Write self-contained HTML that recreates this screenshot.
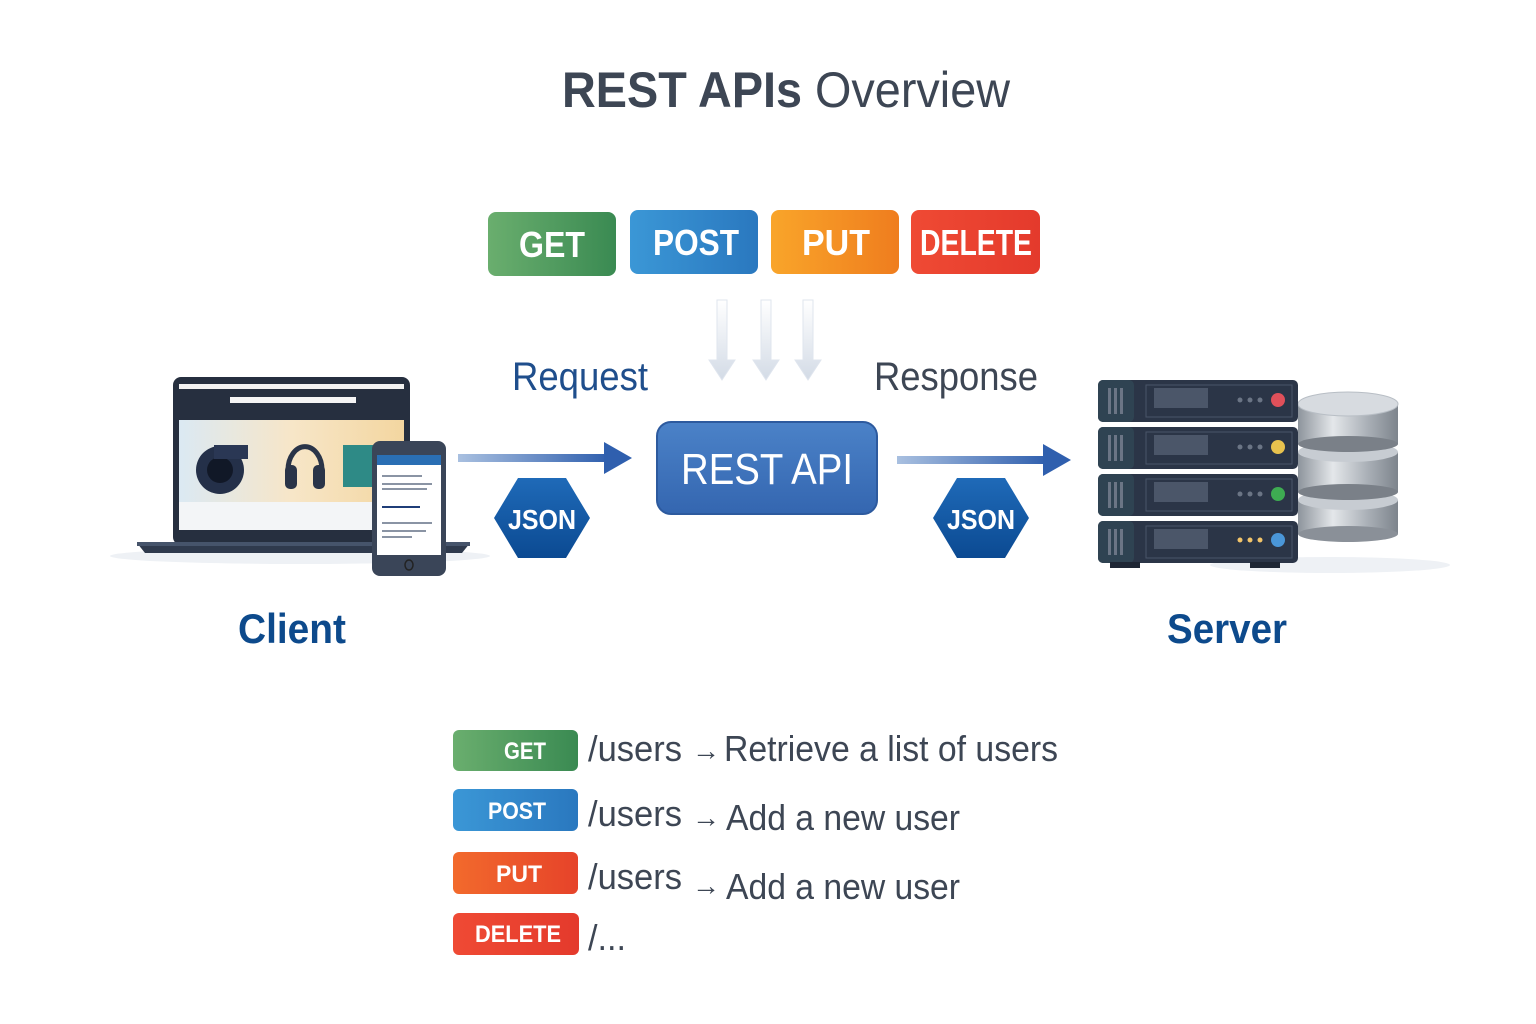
<!DOCTYPE html>
<html><head><meta charset="utf-8"><style>html,body{margin:0;padding:0;background:#fff}svg{display:block}text{font-family:"Liberation Sans",sans-serif}</style></head><body>
<svg width="1536" height="1024" viewBox="0 0 1536 1024" xmlns="http://www.w3.org/2000/svg">
<defs>
<linearGradient id="gG" x1="0" x2="1"><stop offset="0" stop-color="#6aae6e"/><stop offset="1" stop-color="#3a8a52"/></linearGradient>
<linearGradient id="gB" x1="0" x2="1"><stop offset="0" stop-color="#3b97d6"/><stop offset="1" stop-color="#2a78bf"/></linearGradient>
<linearGradient id="gO" x1="0" x2="1"><stop offset="0" stop-color="#f9a52a"/><stop offset="1" stop-color="#ef7d1e"/></linearGradient>
<linearGradient id="gR" x1="0" x2="1"><stop offset="0" stop-color="#ef4a34"/><stop offset="1" stop-color="#e43a2c"/></linearGradient>
<linearGradient id="gP" x1="0" x2="1"><stop offset="0" stop-color="#f26a2c"/><stop offset="1" stop-color="#e6432a"/></linearGradient>
<linearGradient id="arL" x1="0" x2="1"><stop offset="0" stop-color="#a9c0e0"/><stop offset="1" stop-color="#2f5fae"/></linearGradient>
<linearGradient id="api" x1="0" y1="0" x2="0" y2="1"><stop offset="0" stop-color="#4b82c8"/><stop offset="1" stop-color="#3466b0"/></linearGradient>
<linearGradient id="hex" x1="0" y1="0" x2="0" y2="1"><stop offset="0" stop-color="#1f6ab8"/><stop offset="1" stop-color="#0b4a92"/></linearGradient>
<linearGradient id="db" x1="0" x2="1"><stop offset="0" stop-color="#8d949c"/><stop offset=".35" stop-color="#e4e7ea"/><stop offset=".7" stop-color="#a9afb6"/><stop offset="1" stop-color="#7d848c"/></linearGradient>
<linearGradient id="scr" x1="0" x2="1"><stop offset="0" stop-color="#dbe9f3"/><stop offset=".5" stop-color="#f7e6c8"/><stop offset="1" stop-color="#f3d6a0"/></linearGradient>
<linearGradient id="dn" x1="0" y1="0" x2="0" y2="1"><stop offset="0" stop-color="#fff"/><stop offset="1" stop-color="#d3dbe6"/></linearGradient>
</defs>

<text x="786" y="107" text-anchor="middle" font-size="50" fill="#3d4654" textLength="448" lengthAdjust="spacingAndGlyphs"><tspan font-weight="bold">REST APIs</tspan> Overview</text>

<rect x="488" y="212" width="128" height="64" rx="8" fill="url(#gG)"/>
<rect x="630" y="210" width="128" height="64" rx="8" fill="url(#gB)"/>
<rect x="771" y="210" width="128" height="64" rx="8" fill="url(#gO)"/>
<rect x="911" y="210" width="129" height="64" rx="8" fill="url(#gR)"/>
<g fill="#fff" font-size="36" text-anchor="middle" font-weight="bold">
<text x="552" y="257" textLength="66" lengthAdjust="spacingAndGlyphs">GET</text>
<text x="696" y="255" textLength="86" lengthAdjust="spacingAndGlyphs">POST</text>
<text x="836" y="255" textLength="68" lengthAdjust="spacingAndGlyphs">PUT</text>
<text x="976" y="255" textLength="112" lengthAdjust="spacingAndGlyphs">DELETE</text>
</g>

<g fill="url(#dn)" stroke="#dfe5ee" stroke-width="1">
<path d="M717 300h10v60h8l-13 20l-13-20h8z"/>
<path d="M761 300h10v60h8l-13 20l-13-20h8z"/>
<path d="M803 300h10v60h8l-13 20l-13-20h8z"/>
</g>

<text x="512" y="390" font-size="40" fill="#1f4e8c" textLength="136" lengthAdjust="spacingAndGlyphs">Request</text>
<text x="874" y="390" font-size="40" fill="#3d4654" textLength="164" lengthAdjust="spacingAndGlyphs">Response</text>

<rect x="657" y="422" width="220" height="92" rx="14" fill="url(#api)" stroke="#2d5a9e" stroke-width="2"/>
<text x="767" y="484" text-anchor="middle" font-size="44" fill="#fff" textLength="172" lengthAdjust="spacingAndGlyphs">REST API</text>

<rect x="458" y="454" width="150" height="8" fill="url(#arL)"/>
<path d="M604 442l28 16l-28 16z" fill="#2f5fae"/>
<rect x="897" y="456" width="150" height="8" fill="url(#arL)"/>
<path d="M1043 444l28 16l-28 16z" fill="#2f5fae"/>

<path d="M518 478h48l24 40l-24 40h-48l-24-40z" fill="url(#hex)"/>
<text x="542" y="529" text-anchor="middle" font-size="28" fill="#fff" font-weight="bold" textLength="68" lengthAdjust="spacingAndGlyphs">JSON</text>
<path d="M957 478h48l24 40l-24 40h-48l-24-40z" fill="url(#hex)"/>
<text x="981" y="529" text-anchor="middle" font-size="28" fill="#fff" font-weight="bold" textLength="68" lengthAdjust="spacingAndGlyphs">JSON</text>

<ellipse cx="300" cy="556" rx="190" ry="8" fill="#eef1f5"/>
<rect x="173" y="377" width="237" height="168" rx="8" fill="#262f3f"/>
<rect x="179" y="384" width="225" height="5" fill="#f2f2f2"/>
<rect x="230" y="397" width="126" height="6" fill="#f4f4f4"/>
<rect x="179" y="420" width="225" height="82" fill="url(#scr)"/>
<rect x="179" y="502" width="225" height="28" fill="#f3f5f7"/>
<circle cx="220" cy="470" r="24" fill="#243049"/><circle cx="220" cy="470" r="13" fill="#111827"/><rect x="214" y="445" width="34" height="14" fill="#2a3754"/>
<path d="M288 470a16 22 0 0 1 34 0" fill="none" stroke="#2a3448" stroke-width="5"/><rect x="285" y="465" width="12" height="24" rx="5" fill="#2a3448"/><rect x="313" y="465" width="12" height="24" rx="5" fill="#2a3448"/>
<rect x="343" y="445" width="30" height="42" fill="#2e8a86"/>
<path d="M137 543h333l-8 10h-317z" fill="#2f3a4d"/>
<rect x="137" y="542" width="333" height="4" fill="#46546b"/>
<rect x="372" y="441" width="74" height="135" rx="8" fill="#3a4558"/>
<rect x="377" y="455" width="64" height="100" fill="#fff"/>
<rect x="377" y="455" width="64" height="10" fill="#2a6fb4"/>
<g fill="#8a94a4"><rect x="382" y="475" width="40" height="2"/><rect x="382" y="483" width="50" height="2"/><rect x="382" y="488" width="45" height="2"/><rect x="382" y="506" width="38" height="2" fill="#1f3e78"/><rect x="382" y="522" width="50" height="2"/><rect x="382" y="530" width="44" height="2"/><rect x="382" y="536" width="30" height="2"/></g>
<ellipse cx="409" cy="565" rx="4" ry="5" fill="none" stroke="#222" stroke-width="1.5"/>

<ellipse cx="1330" cy="565" rx="120" ry="8" fill="#eef1f5"/>
<g>
<rect x="1298" y="500" width="100" height="34" fill="url(#db)"/><ellipse cx="1348" cy="534" rx="50" ry="8" fill="#8a9098"/><ellipse cx="1348" cy="500" rx="50" ry="10" fill="#c7ccd2"/>
<rect x="1298" y="452" width="100" height="40" fill="url(#db)"/><ellipse cx="1348" cy="492" rx="50" ry="8" fill="#7a8088"/><ellipse cx="1348" cy="452" rx="50" ry="10" fill="#c7ccd2"/>
<rect x="1298" y="404" width="100" height="40" fill="url(#db)"/><ellipse cx="1348" cy="444" rx="50" ry="8" fill="#7a8088"/><ellipse cx="1348" cy="404" rx="50" ry="12" fill="#d7dbe0" stroke="#b8bec5"/>
</g>
<g id="srv">
<rect x="1098" y="380" width="200" height="42" rx="5" fill="#2b3547"/>
<rect x="1098" y="380" width="36" height="42" rx="5" fill="#2f4352"/>
<g fill="#6b7585"><rect x="1108" y="388" width="3" height="26"/><rect x="1114" y="388" width="3" height="26"/><rect x="1120" y="388" width="3" height="26"/></g>
<rect x="1146" y="385" width="146" height="32" fill="none" stroke="#4a5568" stroke-width="1"/>
<rect x="1154" y="388" width="54" height="20" fill="#5a6577" opacity=".7"/>
</g>
<use href="#srv" y="47"/><use href="#srv" y="94"/><use href="#srv" y="141"/>
<g fill="#6b7585"><circle cx="1240" cy="400" r="2.5"/><circle cx="1250" cy="400" r="2.5"/><circle cx="1260" cy="400" r="2.5"/><circle cx="1240" cy="447" r="2.5"/><circle cx="1250" cy="447" r="2.5"/><circle cx="1260" cy="447" r="2.5"/><circle cx="1240" cy="494" r="2.5"/><circle cx="1250" cy="494" r="2.5"/><circle cx="1260" cy="494" r="2.5"/></g>
<g fill="#f2c46a"><circle cx="1240" cy="540" r="2.5"/><circle cx="1250" cy="540" r="2.5"/><circle cx="1260" cy="540" r="2.5"/></g>
<circle cx="1278" cy="400" r="7" fill="#e0505a"/><circle cx="1278" cy="447" r="7" fill="#e8c24e"/><circle cx="1278" cy="494" r="7" fill="#3eac52"/><circle cx="1278" cy="540" r="7" fill="#4a96d8"/>
<rect x="1110" y="562" width="30" height="6" fill="#1e2634"/><rect x="1250" y="562" width="30" height="6" fill="#1e2634"/>

<text x="292" y="643" text-anchor="middle" font-size="42" font-weight="bold" fill="#0d4a8c" textLength="108" lengthAdjust="spacingAndGlyphs">Client</text>
<text x="1227" y="643" text-anchor="middle" font-size="42" font-weight="bold" fill="#0d4a8c" textLength="120" lengthAdjust="spacingAndGlyphs">Server</text>

<rect x="453" y="730" width="125" height="41" rx="6" fill="url(#gG)"/>
<rect x="453" y="789" width="125" height="42" rx="6" fill="url(#gB)"/>
<rect x="453" y="852" width="125" height="42" rx="6" fill="url(#gP)"/>
<rect x="453" y="913" width="126" height="42" rx="6" fill="url(#gR)"/>
<g fill="#fff" font-size="24" text-anchor="middle" font-weight="bold">
<text x="525" y="759" textLength="42" lengthAdjust="spacingAndGlyphs">GET</text>
<text x="517" y="819" textLength="58" lengthAdjust="spacingAndGlyphs">POST</text>
<text x="519" y="882" textLength="46" lengthAdjust="spacingAndGlyphs">PUT</text>
<text x="518" y="942" textLength="86" lengthAdjust="spacingAndGlyphs">DELETE</text>
</g>
<g fill="#3d4654" font-size="36">
<text x="588" y="761" textLength="94" lengthAdjust="spacingAndGlyphs">/users</text>
<text x="692" y="760" font-size="28">→</text>
<text x="724" y="761" textLength="334" lengthAdjust="spacingAndGlyphs">Retrieve a list of users</text>
<text x="588" y="826" textLength="94" lengthAdjust="spacingAndGlyphs">/users</text>
<text x="692" y="827" font-size="28">→</text>
<text x="726" y="830" textLength="234" lengthAdjust="spacingAndGlyphs">Add a new user</text>
<text x="588" y="889" textLength="94" lengthAdjust="spacingAndGlyphs">/users</text>
<text x="692" y="895" font-size="28">→</text>
<text x="726" y="899" textLength="234" lengthAdjust="spacingAndGlyphs">Add a new user</text>
<text x="588" y="950" textLength="38" lengthAdjust="spacingAndGlyphs">/...</text>
</g>
</svg>
</body></html>
